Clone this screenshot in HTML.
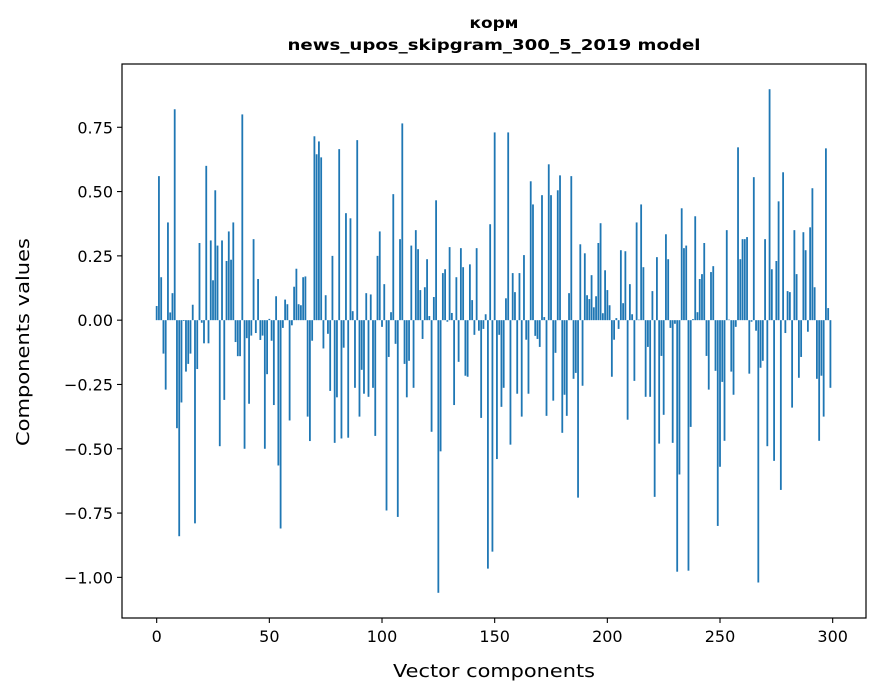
<!DOCTYPE html>
<html><head><meta charset="utf-8">
<style>
html,body{margin:0;padding:0;background:#fff;}
svg{display:block;font-family:"DejaVu Sans","Liberation Sans",sans-serif;}
</style></head>
<body>
<svg id="chart" width="880" height="696" viewBox="0 0 880 696">
<text x="494" y="28" text-anchor="middle" font-size="15" font-weight="bold" textLength="49" lengthAdjust="spacingAndGlyphs">корм</text>
<text x="494" y="50" text-anchor="middle" font-size="15" font-weight="bold" textLength="413" lengthAdjust="spacingAndGlyphs">news_upos_skipgram_300_5_2019 model</text>
<g id="bars"></g>
<g id="axes"></g>
<rect x="122" y="64" width="744" height="554" fill="none" stroke="#000" stroke-width="1.2"/>
<text x="494" y="677" text-anchor="middle" font-size="18" textLength="202" lengthAdjust="spacingAndGlyphs">Vector components</text>
<text transform="translate(29,342) rotate(-90)" text-anchor="middle" font-size="18" textLength="208" lengthAdjust="spacingAndGlyphs">Components values</text>
</svg>
<script>
const values = [
0.055,0.56,0.167,-0.13,-0.27,0.38,0.03,0.105,0.82,-0.42,
-0.84,-0.32,-0.003,-0.2,-0.17,-0.13,0.06,-0.79,-0.19,0.30,
-0.01,-0.09,0.60,-0.09,0.31,0.155,0.505,0.29,-0.49,0.31,
-0.31,0.23,0.345,0.235,0.38,-0.085,-0.14,-0.14,0.80,-0.50,
-0.07,-0.325,-0.06,0.315,-0.05,0.16,-0.077,-0.06,-0.50,-0.21,
0.005,-0.08,-0.33,0.093,-0.565,-0.81,-0.03,0.08,0.062,-0.39,
-0.02,0.13,0.20,0.062,0.058,0.167,0.17,-0.375,-0.47,-0.08,
0.715,0.645,0.695,0.633,-0.11,0.097,-0.053,-0.275,0.25,-0.477,
-0.30,0.665,-0.46,-0.107,0.416,-0.457,0.396,0.035,-0.263,0.70,
-0.375,-0.193,-0.286,0.105,-0.298,0.10,-0.263,-0.45,0.25,0.345,
-0.026,0.14,-0.74,-0.143,0.031,0.49,-0.092,-0.765,0.315,0.765,
-0.17,-0.30,-0.158,0.29,-0.263,0.35,0.276,0.117,-0.073,0.128,
0.237,0.016,-0.434,0.09,0.466,-1.06,-0.51,0.183,0.198,-0.006,
0.284,0.028,-0.33,0.167,-0.162,0.28,0.206,-0.216,-0.22,0.217,
0.078,-0.057,0.28,-0.041,-0.38,-0.034,0.023,-0.966,0.373,-0.90,
0.73,-0.54,-0.057,-0.337,-0.263,0.085,0.73,-0.484,0.183,0.109,
-0.286,0.183,-0.375,0.253,-0.076,-0.286,0.54,0.45,-0.061,-0.073,
-0.104,0.486,0.012,-0.372,0.606,0.486,-0.313,-0.127,0.505,0.563,
-0.438,-0.29,-0.372,0.105,0.56,-0.228,-0.205,-0.69,0.295,-0.255,
0.26,0.097,0.082,0.175,0.05,0.093,0.30,0.377,0.027,0.194,
0.117,0.058,-0.22,-0.076,0.008,-0.034,0.272,0.066,0.268,-0.387,
0.14,0.023,-0.236,0.38,0.002,0.45,0.206,-0.298,-0.104,-0.298,
0.113,-0.687,0.245,-0.48,-0.139,-0.368,0.334,0.237,-0.03,-0.477,
-0.014,-0.978,-0.60,0.435,0.28,0.29,-0.974,-0.415,0.004,0.404,
0.031,0.16,0.179,0.30,-0.139,-0.27,0.187,0.21,-0.197,-0.80,
-0.57,-0.24,-0.469,0.35,0.002,-0.2,-0.29,-0.026,0.672,0.237,
0.315,0.315,0.323,-0.208,-0.006,0.556,-0.041,-1.02,-0.185,-0.158,
0.315,-0.49,0.898,0.198,-0.547,0.23,0.462,-0.66,0.575,-0.05,
0.113,0.109,-0.34,0.35,0.179,-0.224,-0.143,0.342,0.272,-0.045,
0.361,0.513,0.128,-0.228,-0.469,-0.216,-0.375,0.668,0.047,-0.263
];
const xTicks = [0,50,100,150,200,250,300];
const yTicks = [0.75,0.5,0.25,0,-0.25,-0.5,-0.75,-1.0];
const yTickLabels = ["0.75","0.50","0.25","0.00","\u22120.25","\u22120.50","\u22120.75","\u22121.00"];

const NS = "http://www.w3.org/2000/svg";
const L = 122, R = 866, T = 64, B = 618;
const xMin = -15.39, xMax = 314.79, yMin = -1.158, yMax = 0.996;
function xs(v){ return L + (v - xMin) / (xMax - xMin) * (R - L); }
function ys(v){ return T + (yMax - v) / (yMax - yMin) * (B - T); }

const gb = document.getElementById('bars');
values.forEach(function(v, i){
  const r = document.createElementNS(NS, 'rect');
  const x0 = xs(i - 0.4), x1 = xs(i + 0.4);
  const y0 = ys(Math.max(v, 0)), y1 = ys(Math.min(v, 0));
  r.setAttribute('x', x0);
  r.setAttribute('width', x1 - x0);
  r.setAttribute('y', y0);
  r.setAttribute('height', Math.max(y1 - y0, 0.01));
  r.setAttribute('fill', '#1f77b4');
  
  
  gb.appendChild(r);
});

const ga = document.getElementById('axes');
xTicks.forEach(function(t){
  const X = xs(t);
  const ln = document.createElementNS(NS, 'line');
  ln.setAttribute('x1', X); ln.setAttribute('x2', X);
  ln.setAttribute('y1', B); ln.setAttribute('y2', B + 5);
  ln.setAttribute('stroke', '#000'); ln.setAttribute('stroke-width', '1.1');
  
  
  ga.appendChild(ln);
  const tx = document.createElementNS(NS, 'text');
  tx.setAttribute('x', X); tx.setAttribute('y', B + 24);
  tx.setAttribute('text-anchor', 'middle'); tx.setAttribute('font-size', '16');
  tx.textContent = String(t);
  
  
  ga.appendChild(tx);
});
yTicks.forEach(function(t, k){
  const Y = ys(t);
  const ln = document.createElementNS(NS, 'line');
  ln.setAttribute('x1', L - 5); ln.setAttribute('x2', L);
  ln.setAttribute('y1', Y); ln.setAttribute('y2', Y);
  ln.setAttribute('stroke', '#000'); ln.setAttribute('stroke-width', '1.1');
  
  
  ga.appendChild(ln);
  const tx = document.createElementNS(NS, 'text');
  tx.setAttribute('x', L - 9); tx.setAttribute('y', Y + 6);
  tx.setAttribute('text-anchor', 'end'); tx.setAttribute('font-size', '16');
  tx.textContent = yTickLabels[k];
  
  
  ga.appendChild(tx);
});
</script>
</body></html>
